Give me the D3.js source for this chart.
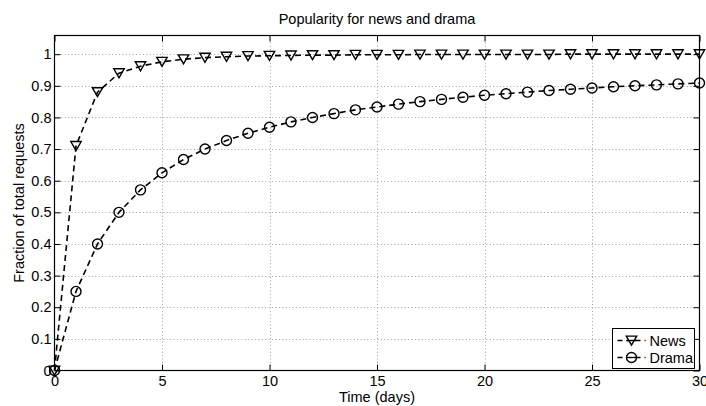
<!DOCTYPE html>
<html>
<head>
<meta charset="utf-8">
<script src="https://cdn.jsdelivr.net/npm/d3@7/dist/d3.min.js"></script>
<style>
  html, body { margin: 0; padding: 0; background: #fff; }
  svg { display: block; font-family: "Liberation Sans", Arial, Helvetica, sans-serif; }
</style>
</head>
<body>
<svg id="chart" width="706" height="406"></svg>
<script>
// Time axis (days since release)
const days = d3.range(0, 31);
// Cumulative fraction of total requests per day
const newsValues = [0, 0.71, 0.88, 0.94, 0.962, 0.976, 0.984, 0.989, 0.992, 0.994,
  0.995, 0.996, 0.997, 0.997, 0.998, 0.998, 0.998, 0.999, 0.999, 0.999,
  0.999, 0.999, 0.999, 0.999, 1.0, 1.0, 1.0, 1.0, 1.0, 1.0, 1.0];
const dramaValues = [0, 0.25, 0.40, 0.50, 0.571, 0.625, 0.667, 0.70, 0.727, 0.75,
  0.769, 0.786, 0.80, 0.812, 0.824, 0.833, 0.842, 0.85, 0.857, 0.864,
  0.87, 0.875, 0.88, 0.885, 0.889, 0.893, 0.897, 0.90, 0.903, 0.906, 0.909];
const xTicks = [0, 5, 10, 15, 20, 25, 30];
const yTicks = [0, 0.1, 0.2, 0.3, 0.4, 0.5, 0.6, 0.7, 0.8, 0.9, 1];
const seriesNames = ["News", "Drama"];

const FONT = "14.5px";
const svg = d3.select("#chart");
const pLeft = 54.5, pRight = 699.5, pTop = 35.5, pBottom = 370.5;

const x = d3.scaleLinear().domain([0, 30]).range([pLeft, pRight]);
const y = d3.scaleLinear().domain([0, 1.059]).range([pBottom, pTop]);

// Dotted grid
const grid = svg.append("g").attr("stroke", "#a0a0a0").attr("stroke-width", 1)
  .attr("stroke-dasharray", "1,2.4").attr("fill", "none");
grid.selectAll("line.v").data(xTicks.slice(1, -1)).join("line").attr("class", "v")
  .attr("x1", d => Math.round(x(d)) + 0.5).attr("x2", d => Math.round(x(d)) + 0.5)
  .attr("y1", pTop).attr("y2", pBottom);
grid.selectAll("line.h").data(yTicks.slice(1)).join("line").attr("class", "h")
  .attr("y1", d => Math.round(y(d)) + 0.5).attr("y2", d => Math.round(y(d)) + 0.5)
  .attr("x1", pLeft).attr("x2", pRight);

// Axes with inward ticks on all four sides
const fmt = d => String(+d.toFixed(2));
const axisStyle = g => {
  g.select(".domain").remove();
  g.selectAll("line").attr("stroke", "#000").attr("stroke-width", 1);
  g.selectAll("text").attr("fill", "#000").style("font-size", FONT)
    .style("font-family", "'Liberation Sans', Arial, sans-serif");
};
svg.append("g").attr("transform", `translate(0,${pBottom})`)
  .call(d3.axisBottom(x).tickValues(xTicks).tickFormat(fmt).tickSizeInner(-6).tickSizeOuter(0).tickPadding(5))
  .call(axisStyle);
svg.append("g").attr("transform", `translate(${pLeft},0)`)
  .call(d3.axisLeft(y).tickValues(yTicks).tickFormat(fmt).tickSizeInner(-6).tickSizeOuter(0).tickPadding(3))
  .call(axisStyle);
svg.append("g").attr("transform", `translate(0,${pTop})`)
  .call(d3.axisTop(x).tickValues(xTicks).tickFormat("").tickSizeInner(-6).tickSizeOuter(0))
  .call(axisStyle);
svg.append("g").attr("transform", `translate(${pRight},0)`)
  .call(d3.axisRight(y).tickValues(yTicks).tickFormat("").tickSizeInner(-6).tickSizeOuter(0))
  .call(axisStyle);

// Box
svg.append("rect").attr("x", pLeft).attr("y", pTop)
  .attr("width", pRight - pLeft).attr("height", pBottom - pTop)
  .attr("fill", "none").attr("stroke", "#000").attr("stroke-width", 1.2);

// Series lines
const line = d3.line().x(d => x(d[0])).y(d => y(d[1]));
const series = [
  { name: seriesNames[0], values: newsValues, marker: "tri" },
  { name: seriesNames[1], values: dramaValues, marker: "circ" }
];
const triPath = "M-5.2,-4.4L5.2,-4.4L0,4.6Z";
function drawMarker(sel, type) {
  if (type === "tri") {
    sel.append("path").attr("d", triPath);
  } else {
    sel.append("circle").attr("r", 5);
  }
}
series.forEach(s => {
  const pts = days.map((d, i) => [d, s.values[i]]);
  svg.append("path").datum(pts).attr("d", line)
    .attr("fill", "none").attr("stroke", "#000").attr("stroke-width", 1.6)
    .attr("stroke-dasharray", "6,4");
  const mg = svg.append("g").attr("fill", "none").attr("stroke", "#000").attr("stroke-width", 1.4);
  pts.forEach(p => {
    const g = mg.append("g").attr("transform", `translate(${x(p[0])},${y(p[1])})`);
    drawMarker(g, s.marker);
  });
});

// Title and axis labels
svg.append("text").attr("x", (pLeft + pRight) / 2).attr("y", 24).attr("text-anchor", "middle")
  .style("font-size", FONT).text("Popularity for news and drama");
svg.append("text").attr("x", (pLeft + pRight) / 2).attr("y", 402).attr("text-anchor", "middle")
  .style("font-size", FONT).text("Time (days)");
svg.append("text").attr("transform", `translate(23.5,${(pTop + pBottom) / 2}) rotate(-90)`)
  .attr("text-anchor", "middle").style("font-size", FONT).text("Fraction of total requests");

// Legend
const lg = svg.append("g").attr("transform", "translate(612.5,328.5)");
lg.append("rect").attr("width", 82).attr("height", 40)
  .attr("fill", "#fff").attr("stroke", "#000").attr("stroke-width", 1);
series.forEach((s, i) => {
  const cy = 12 + i * 17;
  lg.append("line").attr("x1", 5).attr("x2", 33).attr("y1", cy).attr("y2", cy)
    .attr("stroke", "#000").attr("stroke-width", 1.6).attr("stroke-dasharray", "5,4");
  const g = lg.append("g").attr("transform", `translate(19,${cy})`)
    .attr("fill", "#fff").attr("stroke", "#000").attr("stroke-width", 1.4);
  drawMarker(g, s.marker);
  g.append("line").attr("x1", -5).attr("x2", 5).attr("stroke-width", 1.4);
  lg.append("text").attr("x", 37).attr("y", cy + 5).style("font-size", FONT).text(s.name);
});
</script>
</body>
</html>
